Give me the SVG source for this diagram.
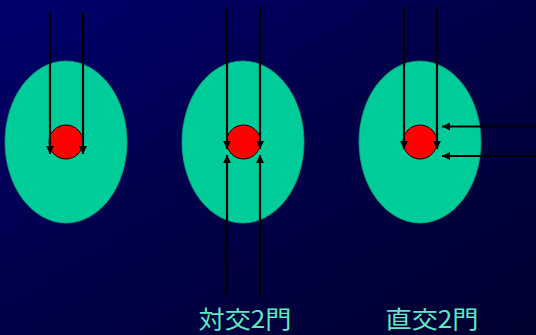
<svg xmlns="http://www.w3.org/2000/svg" width="536" height="335" viewBox="0 0 536 335">
<defs>
<linearGradient id="bg" x1="0" y1="0" x2="1" y2="1">
<stop offset="0" stop-color="#00006e"/>
<stop offset="0.5" stop-color="#000048"/>
<stop offset="1" stop-color="#000030"/>
</linearGradient>
<marker id="ah" viewBox="0 0 10 10" refX="10" refY="5" markerWidth="8" markerHeight="8" markerUnits="userSpaceOnUse" orient="auto">
<path d="M0,0 L10,5 L0,10 z" fill="#000"/>
</marker>
</defs>
<style>
.body{fill:#00cc99;stroke:#00a67c;stroke-width:0.8}
.tumor{fill:#ff0000;stroke:#000;stroke-width:1}
.beam{stroke:#000;stroke-width:2.2;fill:none;marker-end:url(#ah)}
.lbl{fill:#5fe8c4;font-family:"Noto Sans CJK JP","Noto Sans CJK SC",sans-serif;font-size:24px;text-anchor:middle}
</style>
<rect width="536" height="335" fill="url(#bg)"/>
<g id="node1">
<ellipse class="body" cx="66" cy="142" rx="61" ry="81"/>
<circle class="tumor" cx="66" cy="142" r="17"/>
</g>
<g id="node2">
<ellipse class="body" cx="243" cy="142" rx="61" ry="81"/>
<circle class="tumor" cx="243.5" cy="142" r="17"/>
</g>
<g id="node3">
<ellipse class="body" cx="420" cy="142" rx="61" ry="81"/>
<circle class="tumor" cx="420" cy="142" r="17"/>
</g>
<g id="connectors">
<line class="beam" x1="50" y1="12" x2="50" y2="154"/>
<line class="beam" x1="83" y1="12" x2="83" y2="154"/>
<line class="beam" x1="227" y1="7" x2="227" y2="149"/>
<line class="beam" x1="260" y1="7" x2="260" y2="149"/>
<line class="beam" x1="227" y1="297" x2="227" y2="155"/>
<line class="beam" x1="260" y1="297" x2="260" y2="155"/>
<line class="beam" x1="404" y1="7" x2="404" y2="149"/>
<line class="beam" x1="437" y1="7" x2="437" y2="149"/>
<line class="beam" x1="536" y1="126.5" x2="442" y2="126.5"/>
<line class="beam" x1="536" y1="156" x2="442" y2="156"/>
</g>
<g id="labels">
<text class="lbl" x="245" y="328" textLength="93" lengthAdjust="spacingAndGlyphs">対交2門</text>
<text class="lbl" x="432" y="328" textLength="93" lengthAdjust="spacingAndGlyphs">直交2門</text>
</g>
</svg>
